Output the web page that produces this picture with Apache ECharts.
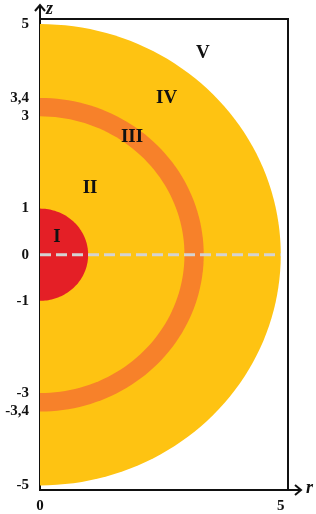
<!DOCTYPE html>
<html>
<head>
<meta charset="utf-8">
<script src="https://cdn.jsdelivr.net/npm/echarts@6/dist/echarts.min.js"></script>
<style>
  html, body { margin: 0; padding: 0; background: #fff; }
  #chart { width: 316px; height: 514px; }
</style>
</head>
<body>
<div id="chart"></div>
<script>
// half-disc radii, drawn largest first
const radii = [5, 3.4, 3, 1]
const zoneColors = ['#FEC312', '#F7812A', '#FEC312', '#E41F26']

// dashed line along z = 0
const axisLinePoints = [[0, 0], [5, 0]]

// zone labels
const zoneNames = ['I', 'II', 'III', 'IV', 'V']
const zonePos = [[0.35, 0.39], [1.04, 1.45], [1.91, 2.55], [2.63, 3.4], [3.38, 4.37]]

// tick labels
const zTicks = [-5, -3.4, -3, -1, 0, 1, 3, 3.4, 5]
const rTicks = [0, 5]

const serif = 'Liberation Serif'
const gridLeft = 40
const gridTop = 19
const gridRightX = 288
const gridBottomY = 490

const chart = echarts.init(document.getElementById('chart'))

chart.setOption({
  animation: false,
  grid: {
    left: gridLeft,
    top: gridTop,
    right: 316 - gridRightX,
    bottom: 514 - gridBottomY,
    show: true,
    borderColor: '#111',
    borderWidth: 2
  },
  xAxis: {
    type: 'value',
    min: 0,
    max: 5.15,
    axisLine: { onZero: false, lineStyle: { color: '#111', width: 2 } },
    axisTick: { show: false },
    splitLine: { show: false },
    axisLabel: {
      customValues: rTicks,
      showMinLabel: true,
      showMaxLabel: true,
      margin: 9,
      color: '#111',
      fontFamily: serif,
      fontWeight: 'bold',
      fontSize: 15
    }
  },
  yAxis: {
    type: 'value',
    min: -5.1,
    max: 5.11,
    axisLine: { onZero: false, lineStyle: { color: '#111', width: 2 } },
    axisTick: { show: false },
    splitLine: { show: false },
    axisLabel: {
      customValues: zTicks,
      margin: 11,
      color: '#111',
      fontFamily: serif,
      fontWeight: 'bold',
      fontSize: 15,
      formatter: v => String(v).replace('.', ',')
    }
  },
  series: [
    {
      type: 'custom',
      data: radii.map((r, i) => [r, i]),
      silent: true,
      renderItem: function (params, api) {
        const R = api.value(0)
        const pts = []
        for (let a = -90; a <= 90; a += 2) {
          const t = a * Math.PI / 180
          pts.push(api.coord([R * Math.cos(t), R * Math.sin(t)]))
        }
        return {
          type: 'polygon',
          shape: { points: pts },
          style: { fill: zoneColors[api.value(1)] }
        }
      },
      z: 1
    },
    {
      type: 'line',
      data: axisLinePoints,
      symbol: 'none',
      silent: true,
      lineStyle: { color: '#D3D3D3', width: 3, type: [11, 5] },
      z: 3
    },
    {
      type: 'scatter',
      data: zonePos.map((p, i) => ({ value: p, name: zoneNames[i] })),
      symbolSize: 0,
      silent: true,
      itemStyle: { opacity: 1 },
      label: {
        show: true,
        position: 'inside',
        formatter: p => p.name,
        color: '#111',
        fontFamily: serif,
        fontWeight: 'bold',
        fontSize: 19
      },
      z: 4
    }
  ],
  graphic: [
    // z axis arrow
    { type: 'polyline', shape: { points: [[gridLeft, gridTop], [gridLeft, 5]] }, style: { stroke: '#111', lineWidth: 2 } },
    { type: 'polyline', shape: { points: [[gridLeft - 5, 11], [gridLeft, 5], [gridLeft + 5, 11]] }, style: { stroke: '#111', fill: null, lineWidth: 2 } },
    { type: 'text', left: 46, top: 0, style: { text: 'z', font: 'italic bold 18px ' + serif, fill: '#111' } },
    // r axis arrow
    { type: 'polyline', shape: { points: [[gridRightX, gridBottomY], [301, gridBottomY]] }, style: { stroke: '#111', lineWidth: 2 } },
    { type: 'polyline', shape: { points: [[295, gridBottomY - 5], [301, gridBottomY], [295, gridBottomY + 5]] }, style: { stroke: '#111', fill: null, lineWidth: 2 } },
    { type: 'text', left: 306, top: 479, style: { text: 'r', font: 'italic bold 18px ' + serif, fill: '#111' } }
  ]
})
</script>
</body>
</html>
